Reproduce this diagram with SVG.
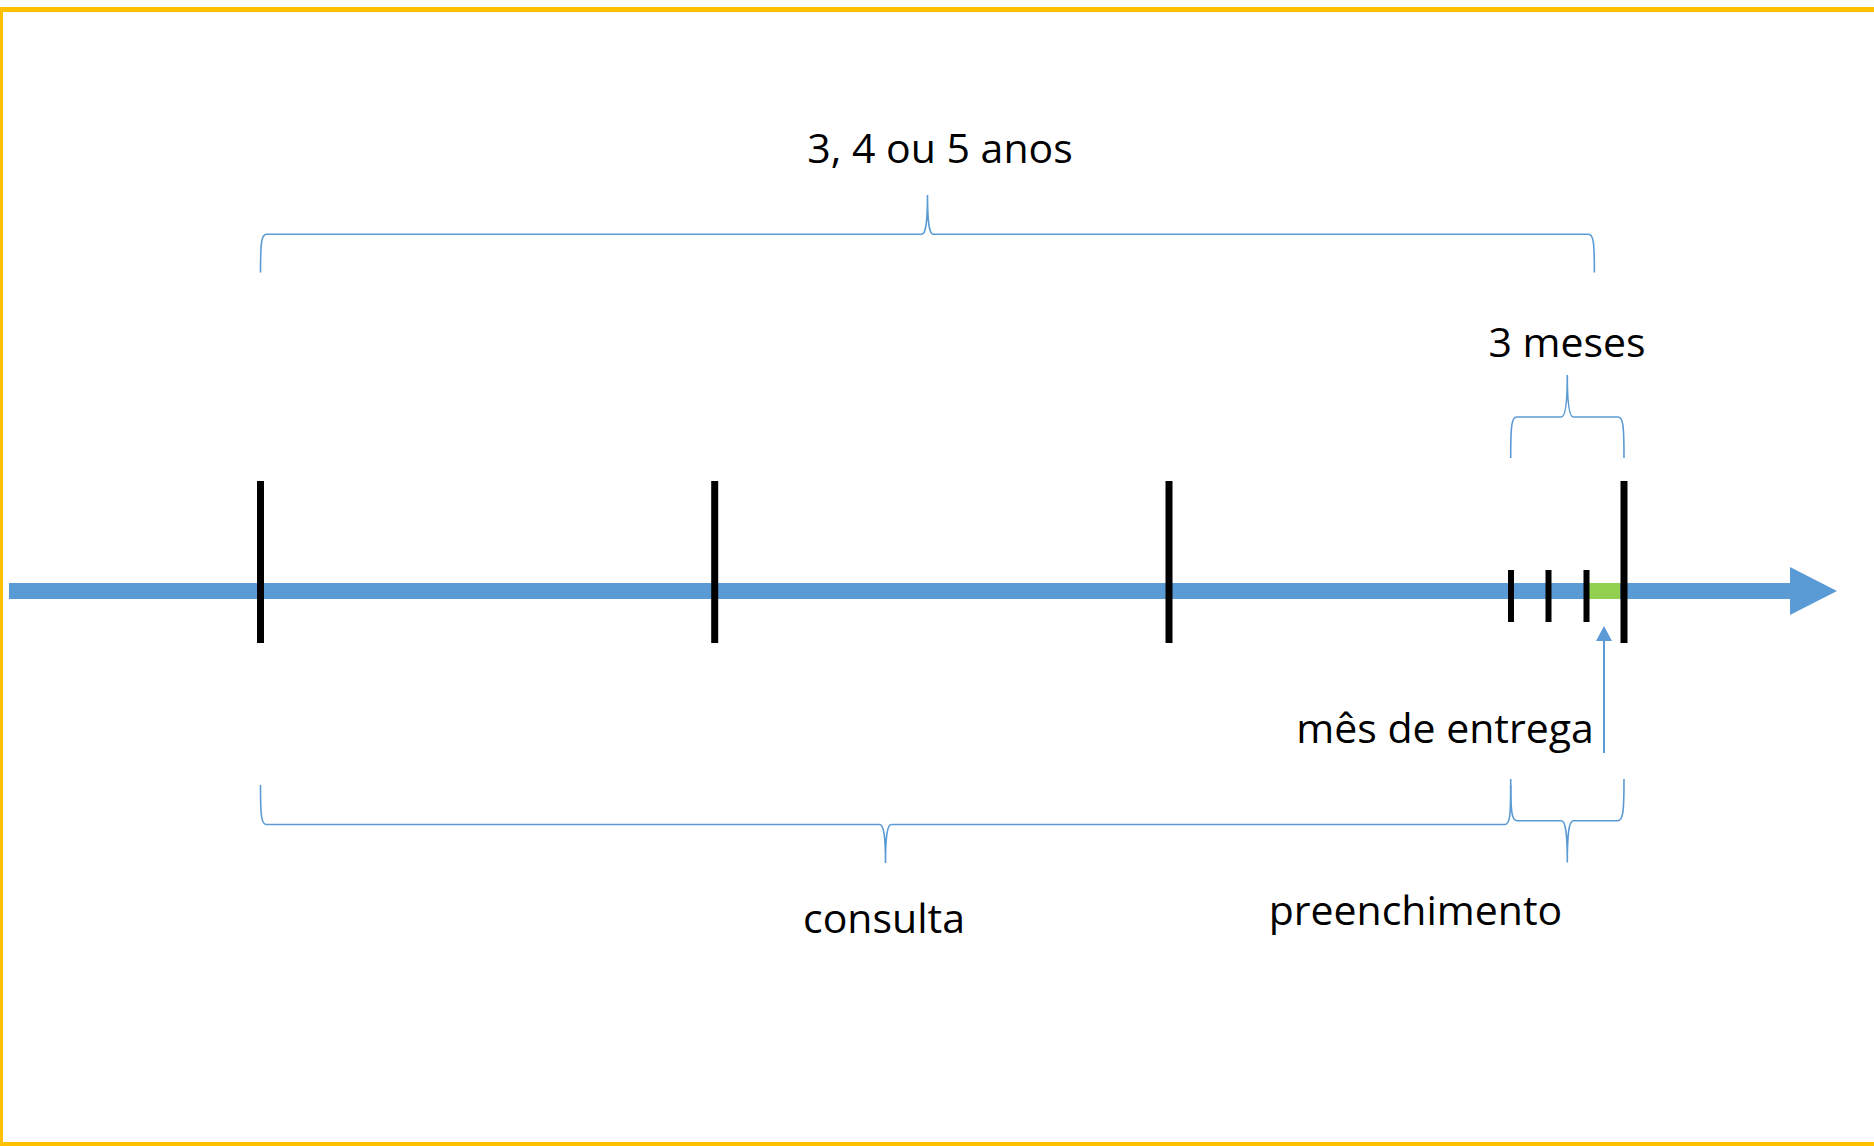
<svg xmlns="http://www.w3.org/2000/svg" width="1874" height="1146" viewBox="0 0 1874 1146">
<style>
.lbl{font-family:"Open Sans","Liberation Sans",sans-serif;font-size:41px;fill:#000;text-anchor:middle}
.brace{fill:none;stroke:#5B9BD5;stroke-width:1.6}
.big{fill:#000}
</style>
<rect x="0.5" y="9.5" width="1900" height="1135" fill="#fff" stroke="#FFC000" stroke-width="5"/>
<g id="connectors">
<path id="axis" d="M9,583 H1790 V567 L1837,591 L1790,615 V599 H9 Z" fill="#5B9BD5"/>
<rect id="delivery-month" x="1589" y="583" width="31" height="16" fill="#92D050"/>
<line x1="1604" y1="753" x2="1604" y2="640" stroke="#5B9BD5" stroke-width="2"/>
<polygon points="1604,626 1596,641 1612,641" fill="#5B9BD5"/>
</g>
<g id="ticks">
<rect class="big" x="257" y="481" width="7" height="162"/>
<rect class="big" x="711.2" y="481" width="7" height="162"/>
<rect class="big" x="1165.5" y="481" width="7" height="162"/>
<rect class="big" x="1620.5" y="481" width="7" height="162"/>
<rect class="big" x="1508" y="570" width="6" height="52"/>
<rect class="big" x="1545.5" y="570" width="6" height="52"/>
<rect class="big" x="1583.5" y="570" width="6" height="52"/>
</g>
<g id="brace-anos">
<path class="brace" d="M260.5,272.5 C260.5,242 261.5,234.3 266.5,234.3 L921.5,234.3 C925.5,234.3 927.5,224 927.5,195 C927.5,224 929.5,234.3 933.5,234.3 L1588.4,234.3 C1593.4,234.3 1594.4,242 1594.4,272.5"/>
<text class="lbl" x="940" y="163.3">3, 4 ou 5 anos</text>
</g>
<g id="brace-meses">
<path class="brace" d="M1510.7,458 C1510.7,425 1511.7,417 1516.7,417 L1561.3,417 C1565.3,417 1567.3,405 1567.3,375 C1567.3,405 1569.3,417 1573.3,417 L1618,417 C1623,417 1624,425 1624,458"/>
<text class="lbl" x="1567" y="357.3">3 meses</text>
</g>
<g id="label-entrega">
<text class="lbl" x="1445" y="743">mês de entrega</text>
</g>
<g id="brace-consulta">
<path class="brace" d="M260.5,785 C260.5,817 261.5,824.5 266.5,824.5 L879.5,824.5 C883.5,824.5 885.5,835 885.5,863 C885.5,835 887.5,824.5 891.5,824.5 L1504.7,824.5 C1509.7,824.5 1510.7,817 1510.7,785"/>
<text class="lbl" x="884" y="932.7">consulta</text>
</g>
<g id="brace-preenchimento">
<path class="brace" d="M1510.7,779 C1510.7,812 1511.7,820.7 1516.7,820.7 L1561.3,820.7 C1565.3,820.7 1567.3,832 1567.3,862.5 C1567.3,832 1569.3,820.7 1573.3,820.7 L1618,820.7 C1623,820.7 1624,812 1624,779"/>
<text class="lbl" x="1415.5" y="925">preenchimento</text>
</g>
</svg>
